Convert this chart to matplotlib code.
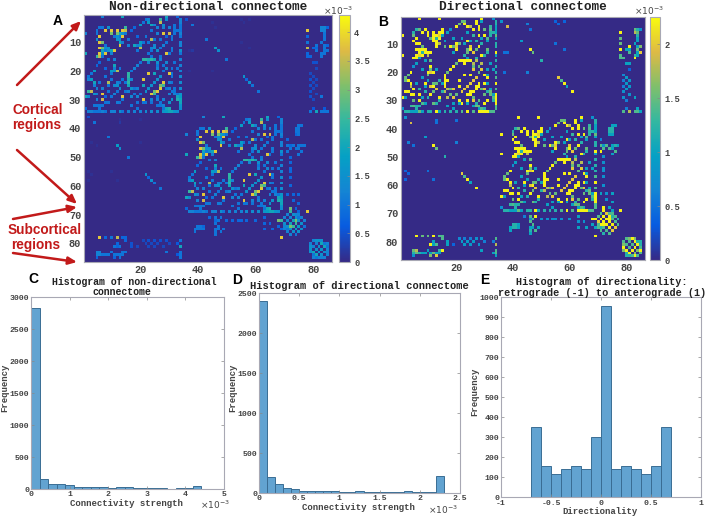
import numpy as np
import matplotlib
matplotlib.use('Agg')
from matplotlib import pyplot as plt
from matplotlib.colors import LinearSegmentedColormap

# hemisphere block, upper triangle: row, col, non-directional, directional (x 1e-3)
block_edges = [
    (1,7,1.2,2.2),(1,14,2,2.2),(1,29,2,2.2),(3,23,1.8,2.2),(4,24,2,2.2),(3,27,3.5,2.2),(2,27,2.5,2.2),
    (4,25,1.2,1.8),(5,26,1.2,2.2),(2,22,1,1.5),(4,28,1.5,2.2),(2,29,1.4,1),(4,20,1.8,2.2),
    (5,7,1,1.5),(5,9,1.5,2.2),(5,6,1,1.2),(6,8,3.8,2.2),(6,10,3.8,2.2),(6,12,3.8,2.2),(6,15,3.5,2.2),
    (7,10,3,2.2),(7,12,3,2.2),(7,14,1.5,2),(7,15,1,1),(8,11,1,1.5),(8,14,3.8,2.2),(9,12,1.5,2.2),
    (9,13,1.5,2.2),(10,13,2,2.2),(10,14,1.2,1.8),(11,13,3.8,2.2),(11,16,1.2,1.5),(6,14,3.8,2.2),
    (5,15,2.5,2.2),(7,13,2,2.2),(8,12,1.5,2.2),(8,13,1,1.2),
    (7,28,3.8,2.2),(7,30,3.6,2.2),(9,24,3.4,2.2),(9,27,1,1.2),(10,21,1,1.5),(10,23,1,1),(11,19,1.2,1.5),
    (11,20,1.5,2),(11,25,1.3,2),(12,24,1.2,1.5),(12,25,1.5,2.2),(13,24,1,1.5),(13,26,1.5,2),
    (14,29,3.8,2.2),(14,23,1,1.2),(8,22,1,1),(8,31,1,1.4),(6,33,1,1.2),(7,34,1.2,1.5),(5,34,1,1),
    (9,31,1,1),(11,18,2,2.2),(10,20,1.8,2.2),(12,20,3.4,2.2),
    (2,34,1.2,1.2),(3,34,1.2,1.2),(4,34,1,1),(6,34,1,1),(8,34,1,1),(10,34,1.2,1.2),(11,34,1.2,1.2),
    (13,34,1.5,2.2),(14,34,1,1),(16,34,1.2,1.2),(18,34,1.2,1.2),(20,34,1.2,1.2),(22,34,1.4,1.4),
    (24,34,1.4,2.2),(26,34,1.4,1.4),(28,34,1.6,2.2),(29,34,1.8,2.2),(30,34,2,2.2),(31,34,2,2.2),
    (32,34,1.6,1.4),(33,34,1.4,1.4),(29,33,2,1.4),(30,33,2.2,1.2),
    (16,21,2.4,2.2),(16,22,2.4,2.2),(16,23,2.2,2.2),(16,24,2.4,2.2),(16,25,2,2.2),(17,20,1,1.5),
    (17,26,1.5,1.8),(18,19,1.2,2.2),(18,26,1,1.5),(16,27,1.2,1.8),(17,23,1.3,2.2),(19,26,1.2,2),
    (21,23,3.8,2.2),(21,30,3.8,2.2),(21,25,2,2.2),(22,27,1.5,2),(23,26,1.5,2),(24,28,3.8,2.2),
    (24,25,1.5,2),(26,27,3.8,2.2),(26,29,1,1.5),(25,27,3,2.2),(25,28,2.5,2.2),(27,31,1,1.2),
    (28,30,1.2,1.5),(28,32,1.2,1.5),(24,30,1.2,2.2),(22,31,1,2.2),(19,29,1.3,2),(17,29,1.3,1.8),
    (18,28,1,1.5),(20,28,1,1.5),(26,30,1.2,2),(27,32,1,1.5),(30,31,1.6,2.2),(19,31,1,1),(17,32,1,1),
    (19,33,1,1),(21,31,1,1),(24,31,1,1),(26,32,1,1),(28,33,1,1),
    (3,21,1,1.5),(2,23,1.2,1.5),(5,30,1.2,1.5),(5,28,1.2,2.2),(6,24,1,1),(7,26,1.2,1.3),(9,25,1,1),
    (10,29,1,1.2),(11,28,1.2,2.2),(12,27,1,1.5),(13,31,1,1.2),(14,30,1,1.2),(15,27,1,1.2),(12,31,1.1,1.5),
    (15,24,1,1),(13,19,1,1),(8,19,.8,1),(6,17,.8,1),(9,16,1,1),(5,18,.8,.8),(4,32,1,1.3),(5,32,1,1.4),
    (6,32,1,1.2),(7,32,1,1.2),(1,33,.8,.8),(8,29,.8,1),
]
block_offset = 35

# edges between hemispheres and towards the subcortical rows
other_edges = [
    (9,43,1,.9),(12,46,1.8,2.2),(13,47,1.5,1.5),(16,50,1,1.2),(22,56,1.5,2),(23,57,.8,1.4),(24,58,1.5,2.2),
    (25,59,1,1),(27,61,1,2.2),(4,38,1,1.9),(2,36,.5,.8),(5,46,.1,.5),(13,37,.1,.5),(10,55,.1,.5),(20,37,.1,.5),
    (12,58,.1,.5),(2,55,.1,.4),(2,58,.1,.4),(38,13,.2,.5),(45,3,.1,.6),(45,20,.1,.6),(56,3,.1,.4),
    (6,78,3.8,2.2),(12,78,3.5,2.2),(8,78,.8,1.5),(10,78,1.2,2.2),(5,83,1.2,1.5),(6,83,1.2,1.8),(7,84,1,1.2),
    (6,84,1.2,1.5),(10,83,1,1),(12,84,1,1.5),(13,81,1,1.4),(14,83,1,1.3),(15,79,.8,1.4),(15,83,1,2.2),
    (13,85,1,2),(11,85,.8,1.6),(11,81,1,2.2),(34,79,1,1.4),(34,81,2,1.8),(34,83,1,1.4),(34,84,1,1.4),
    (34,85,1,1),(23,79,.5,.6),(25,79,.5,.6),(27,79,.5,.8),(29,79,.5,.8),(29,83,1,1),(21,79,.4,.7),
    (17,80,.5,1),(17,81,.5,1),(10,78,1,1.5),(14,78,.8,1.4),(15,78,.8,1.4),(5,84,1.2,1.2),(8,84,1,1),
    (9,84,1,1),(13,84,1,1),(14,84,1,1),(12,80,.8,1),(12,81,.8,1),(11,84,1,1),(5,85,.8,.8),(19,81,.4,.4),
    (22,80,.4,.9),(23,81,.4,.9),(24,80,.4,.9),(25,81,.4,.9),(26,80,.4,.9),(28,81,.4,.8),(30,80,.4,.6),
    (33,84,.6,1),(33,80,.6,.6),
    (40,74,1,1.2),(40,75,1,1.2),(41,74,1,1.2),(41,75,1,1.2),(42,74,.8,1),(46,71,1,1.4),(47,72,1,1.4),
    (46,73,1,1.4),(47,74,1,1.4),(48,76,1,1.4),(46,75,1,1),(48,71,1,2.2),(50,72,.8,.8),(52,72,.8,.8),
    (54,72,.8,.8),(55,72,.8,.8),(57,72,.8,.8),(60,72,.8,.8),(63,73,.8,.8),(65,73,.8,.8),
    (69,72,2.5,2.2),(69,78,3.8,2.2),(68,72,3,2.2),(39,75,1,1),(39,76,1,1),(42,75,1,1),(47,75,1,1),
    (49,75,1,1),(46,76,1,1.2),(46,77,1,1),(46,72,.8,.8),(44,71,.8,.6),(63,71,.8,1),(63,75,.8,1),
    (68,74,.8,1),(69,75,.8,1),(66,75,.8,1),
    (70,73,1.5,2),(70,74,1.2,1.4),(70,75,1.2,1.4),(71,72,1.3,2.2),(71,74,1.5,2.2),(71,76,1.2,1.4),(72,73,2,2.2),
    (72,75,1.5,1.4),(72,77,1.2,1.2),(73,74,2.5,2.2),(73,76,1.5,1.4),(74,75,1.8,2.2),(74,77,1,1.4),(75,76,1.5,2),
    (70,71,1.2,1.4),(71,75,1,1.2),(72,74,3,2.2),
    (79,80,1.2,1.4),(79,82,1.5,2.2),(79,83,1.5,1.6),(80,81,1.2,1.4),(80,83,2,2.2),(80,85,1.2,1.2),(81,82,1.5,1.4),
    (81,84,2,2.2),(82,83,1.6,2.2),(82,85,1.3,1.4),(83,84,1.5,1.6),(84,85,1.2,1.4),(79,81,1.5,1.6),(80,84,1,1.2),
    (83,85,1.2,2.2),(81,85,1,1.2),
]

# histogram counts
c_counts = [2830,155,75,75,70,35,35,25,30,20,30,25,12,12,8,15,3,8,8,40]
d_counts = [2400,195,110,65,45,30,28,22,25,22,18,18,25,18,12,10,10,8,30,12,12,12,215]
e_counts = [352,155,113,138,155,138,302,955,138,155,138,113,155,352]
c_bin = 0.2205
d_bin = 0.1
e_bin = 0.1

# outline of matlab's parula
parula = LinearSegmentedColormap.from_list('parula', [
    (0.208,0.166,0.529),(0.03,0.36,0.88),(0.08,0.52,0.83),(0.02,0.63,0.77),
    (0.2,0.72,0.63),(0.5,0.75,0.42),(0.87,0.73,0.27),(0.976,0.983,0.054)])

W, H = 708, 517
fig = plt.figure(figsize=(W/100, H/100), dpi=100)
mono = 'Liberation Mono'
sans = 'Liberation Sans'
grey = '#444444'
frame = '#a8a8b4'

def rect(x0, y0, x1, y1):
    return [x0/W, 1-y1/H, (x1-x0)/W, (y1-y0)/H]

def pos(x, y):
    return (x/W, 1-y/H)

def style(ax, size):
    ax.tick_params(direction='in', length=2, width=0.5, color='#888888', labelcolor=grey, pad=2)
    for lab in ax.get_xticklabels()+ax.get_yticklabels():
        lab.set_fontfamily(mono)
        lab.set_fontweight('bold')
        lab.set_fontsize(size)
    for s in ax.spines.values():
        s.set_color(frame)
        s.set_linewidth(0.8)

def build(k):
    m = np.zeros((86, 86))
    for e in block_edges:
        for o in (0, block_offset):
            m[e[0]-1+o, e[1]-1+o] = e[k]
            m[e[1]-1+o, e[0]-1+o] = e[k]
    for e in other_edges:
        m[e[0]-1, e[1]-1] = e[k]
        m[e[1]-1, e[0]-1] = e[k]
    return m

def matrix(box, cbox, k, vmax, ticks, title, title_x):
    ax = fig.add_axes(rect(*box))
    im = ax.imshow(build(k), cmap=parula, vmin=0, vmax=vmax, extent=(0.5,86.5,86.5,0.5),
                   aspect='auto', interpolation='nearest')
    ax.set_xticks([20,40,60,80])
    ax.set_yticks([10,20,30,40,50,60,70,80])
    style(ax, 7.4)
    ax.tick_params(length=0)
    cax = fig.add_axes(rect(*cbox))
    fig.colorbar(im, cax=cax, ticks=ticks)
    cax.set_yticklabels(['%g' % t for t in ticks])
    style(cax, 6.3)
    cax.tick_params(length=2, direction='in', pad=3)
    cax.spines['outline'].set_color(frame)
    fig.text(*pos(title_x, 7), title, family=mono, weight='bold', size=9.2, color='#222222',
             ha='center', va='center')
    fig.text(*pos(cbox[0]-1, 11), r'$\times$10$^{-3}$', size=6.5, color=grey, ha='center', va='center')

matrix((84,15,332,262), (339,15,350,262), 2, 4.3, [0,.5,1,1.5,2,2.5,3,3.5,4], 'Non-directional connectome', 208)
matrix((401,17,645,260), (650,17,660,260), 3, 2.25, [0,.5,1,1.5,2], 'Directional connectome', 523)

def hist(box, counts, start, width, xlim, ylim, xticks, yticks, xlabel, xlabel_y, xpad):
    ax = fig.add_axes(rect(*box))
    edges = start + width*np.arange(len(counts))
    ax.bar(edges, counts, width=width, align='edge', color='#62a3d1', edgecolor='#3a6d94', linewidth=0.7)
    ax.set_xlim(xlim)
    ax.set_ylim(ylim)
    ax.set_xticks(xticks)
    ax.set_xticklabels(['%g' % t for t in xticks])
    ax.set_yticks(yticks)
    ax.set_yticklabels(['%g' % t for t in yticks])
    ax.tick_params(top=True, right=True)
    style(ax, 5.9)
    ax.tick_params(axis='x', pad=xpad)
    ax.tick_params(axis='y', pad=1.5)
    fig.text(*pos((box[0]+box[2])/2-1, xlabel_y), xlabel, family=mono, weight='bold', size=6.5,
             color=grey, ha='center', va='center')
    fig.text(*pos(box[0]-26, (box[1]+box[3])/2-5), 'Frequency', family=mono, weight='bold', size=6.5,
             color=grey, rotation=90, ha='center', va='center')
    return ax

hist((31,297,224,489), c_counts, 0, c_bin, (0,5), (0,3000), [0,1,2,3,4,5],
     [0,500,1000,1500,2000,2500,3000], 'Connectivity strength', 503, 1.2)
hist((259,293,460,493), d_counts, 0, d_bin, (0,2.5), (0,2500), [0,.5,1,1.5,2,2.5],
     [0,500,1000,1500,2000,2500], 'Connectivity strength', 508, 1.2)
hist((501,297,701,497), e_counts, -0.7, e_bin, (-1,1), (0,1000), [-1,-.5,0,.5,1],
     list(range(0,1001,100)), 'Directionality', 512, 2.5)

for x, y in [(215,505),(443,510)]:
    fig.text(*pos(x, y), r'$\times$10$^{-3}$', size=6.5, color=grey, ha='center', va='center')

# histogram titles
for x, y, txt, size in [(134,282,'Histogram of non-directional',7.1), (122,292,'connectome',7.1),
                        (359,286,'Histogram of directional connectome',7.5),
                        (602,282,'Histogram of directionality:',7.3),
                        (602,293,'retrograde (-1) to anterograde (1)',7.3)]:
    fig.text(*pos(x, y), txt, family=mono, weight='bold', size=size, color='#222222', ha='center', va='center')

# panel letters
for x, y, txt in [(58,21,'A'),(383,22,'B'),(33,279,'C'),(237,280,'D'),(485,280,'E')]:
    fig.text(*pos(x, y), txt, family=sans, weight='bold', size=10, color='black', ha='center', va='center')

# red notes on the left
red = '#c21a1a'
for x, y, txt in [(38,110,'Cortical'),(37,125,'regions'),(45,230,'Subcortical'),(36,245,'regions')]:
    fig.text(*pos(x, y), txt, family=sans, weight='bold', size=9.8, color=red, ha='center', va='center')

overlay = fig.add_axes([0,0,1,1])
overlay.set_xlim(0, W)
overlay.set_ylim(H, 0)
overlay.axis('off')
for start, end in [((17,85),(81,21)), ((17,150),(77,204)), ((13,219),(77,207)), ((13,253),(77,262))]:
    overlay.annotate('', xy=end, xytext=start,
                     arrowprops=dict(arrowstyle='-|>,head_width=0.22,head_length=0.5', color=red, lw=1.8,
                                     shrinkA=0, shrinkB=0))

fig.savefig('out.png', dpi=100)
